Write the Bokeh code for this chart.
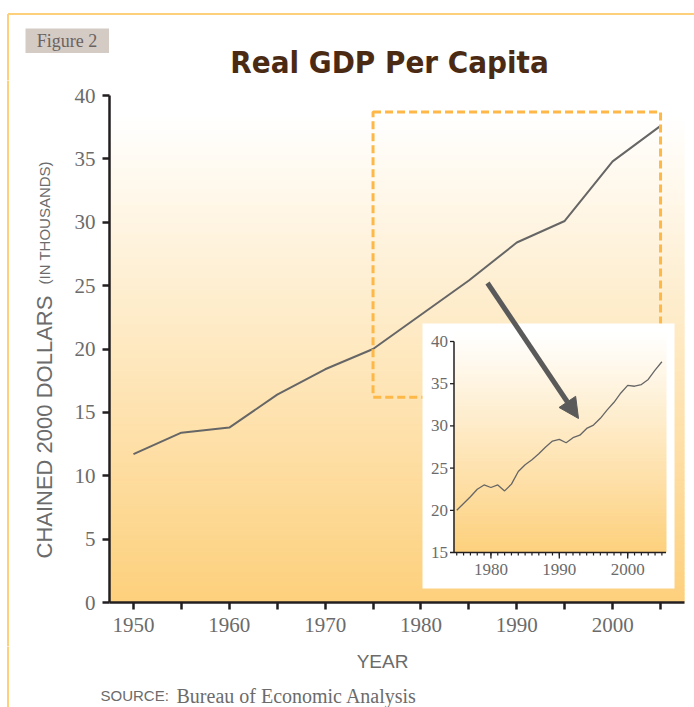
import math
from bokeh.plotting import figure
from bokeh.layouts import column, row
from bokeh.models import Range1d, FixedTicker, Arrow, NormalHead
from bokeh.core.properties import value
from bokeh.embed import file_html
from bokeh.resources import INLINE

# ---------------- data (thousands of chained 2000 dollars) ----------------
MAIN_YEARS = [1950, 1955, 1960, 1965, 1970, 1975, 1980, 1985, 1990, 1995, 2000, 2005]
MAIN_GDP = [11.7, 13.4, 13.8, 16.4, 18.4, 20.0, 22.7, 25.4, 28.4, 30.1, 34.8, 37.6]

INSET_YEARS = [1975, 1976, 1977, 1978, 1979, 1980, 1981, 1982, 1983, 1984,
               1985, 1986, 1987, 1988, 1989, 1990, 1991, 1992, 1993, 1994,
               1995, 1996, 1997, 1998, 1999, 2000, 2001, 2002, 2003, 2004, 2005]
INSET_GDP = [20.0, 20.8, 21.6, 22.5, 23.0, 22.7, 23.0, 22.3, 23.1, 24.6,
             25.4, 26.0, 26.7, 27.5, 28.2, 28.4, 28.0, 28.6, 28.9, 29.7,
             30.1, 30.9, 31.9, 32.8, 33.9, 34.8, 34.7, 34.9, 35.5, 36.6, 37.6]

MAIN_X_TICKS = [1950, 1960, 1970, 1980, 1990, 2000]
MAIN_X_MINOR_TICKS = [1955, 1965, 1975, 1985, 1995, 2005]
MAIN_Y_TICKS = [0, 5, 10, 15, 20, 25, 30, 35, 40]
INSET_X_TICKS = [1980, 1990, 2000]
INSET_X_MINOR_TICKS = INSET_YEARS
INSET_Y_TICKS = [15, 20, 25, 30, 35, 40]
ZOOM_YEARS = [1975, 2005]
ZOOM_VALUES = [16.2, 38.7]

TITLE = "Real GDP Per Capita"
FIG_TAG = "Figure 2"
Y_LABEL = "CHAINED 2000 DOLLARS"
Y_LABEL_NOTE = "(IN THOUSANDS)"
X_LABEL = "YEAR"
SOURCE_TAG = "SOURCE:"
SOURCE_TEXT = "Bureau of Economic Analysis"

# ---------------- layout (page pixels) ----------------
W, H = 694, 707
HEAD_H = 80            # header strip height
STRIP_W = 60           # left strip (y label)
MAIN_BOT = 646         # bottom of main figure
FL, FR, FT, FB = 109, 684, 95, 602          # main plot frame
MX0, MX1 = 1947.5, 2007.5
MY0, MY1 = 0, 40

# inset axes geometry (page pixels)
IX0, IX1 = 1974.6, 2005.6
IY0, IY1 = 15, 40
IL, IR, IB, IT = 453.5, 665.5, 552, 341
IXS = (IX1 - IX0) / (IR - IL)
IYS = (IY1 - IY0) / (IB - IT)


def ix(px):
    return IX0 + (px - IL) * IXS


def iy(py):
    return IY0 + (IB - py) * IYS


def mx(px):
    return MX0 + (px - FL) * (MX1 - MX0) / (FR - FL)


def my(py):
    return MY0 + (FB - py) * (MY1 - MY0) / (FB - FT)


GRAD_LOW = (253, 208, 124)
GREY_TXT = "#6b6b6b"
AXIS_COL = "#231f20"
LINE_COL = "#666666"
FRAME_COL = "#fdd07c"


def mix(t):
    t = max(0.0, min(1.0, t))
    r, g, b = (round(255 + (c - 255) * t) for c in GRAD_LOW)
    return "#%02x%02x%02x" % (r, g, b)


def canvas_fig(x0, y0, w, h):
    f = figure(width=w, height=h, title=None,
               x_range=Range1d(x0, x0 + w), y_range=Range1d(-(y0 + h), -y0),
               x_axis_type=None, y_axis_type=None,
               output_backend="svg", toolbar_location=None,
               min_border_left=0, min_border_right=0, min_border_top=0, min_border_bottom=0)
    f.outline_line_color = None
    f.background_fill_color = "white"
    f.border_fill_color = "white"
    f.frame_align = False
    return f


def txt(f, x, y, s, size, font, color, align="left", baseline="alphabetic",
        style="normal", angle=0.0):
    f.text(x=[x], y=[-y], text=[s], angle=angle, text_align=align, text_baseline=baseline,
           text_font=value(font), text_font_size=size, text_font_style=style, text_color=color)


def vline(f, x, y0, y1):
    f.segment(x0=[x], y0=[-y0], x1=[x], y1=[-y1], line_color=FRAME_COL, line_width=2)


# ---------------- header ----------------
head = canvas_fig(0, 0, W, HEAD_H)
head.segment(x0=[7.5], y0=[-13.5], x1=[W + 2], y1=[-13.5], line_color=FRAME_COL, line_width=2)
vline(head, 7.5, 13.5, HEAD_H + 1)
head.quad(left=[25], right=[108.5], top=[-28], bottom=[-52.5], fill_color="#d4cbc5", line_color=None)
txt(head, 66.5, 40.5, FIG_TAG, "18px", "Liberation Serif", "#6b6360", align="center", baseline="middle")
txt(head, 389, 61, TITLE, "31px", "DejaVu Sans Condensed", "#4b2a14", align="center", style="bold")

# ---------------- left strip (y label) ----------------
strip = canvas_fig(0, HEAD_H, STRIP_W, MAIN_BOT - HEAD_H)
vline(strip, 7.5, HEAD_H - 1, MAIN_BOT + 1)
txt(strip, 43.5, 558, Y_LABEL, "22px", "Liberation Sans", GREY_TXT, angle=math.pi / 2)
txt(strip, 43.5, 284, Y_LABEL_NOTE, "15px", "Liberation Sans", GREY_TXT, angle=math.pi / 2)

# ---------------- footer ----------------
foot = canvas_fig(0, MAIN_BOT, W, H - MAIN_BOT)
vline(foot, 7.5, MAIN_BOT - 1, H + 2)
txt(foot, 382, 661, X_LABEL, "19px", "Liberation Sans", GREY_TXT, align="center", baseline="middle")
txt(foot, 100, 695, SOURCE_TAG, "15px", "Liberation Sans", GREY_TXT)
txt(foot, 176, 695, SOURCE_TEXT, "20px", "Liberation Serif", GREY_TXT)

# ---------------- main chart ----------------
p = figure(width=W - STRIP_W, height=MAIN_BOT - HEAD_H, title=None,
           x_range=Range1d(MX0, MX1), y_range=Range1d(MY0, MY1),
           output_backend="svg", toolbar_location=None,
           min_border_left=FL - STRIP_W, min_border_right=W - FR,
           min_border_top=FT - HEAD_H, min_border_bottom=MAIN_BOT - FB)
p.frame_align = False
p.extra_x_ranges = {"ix": Range1d(ix(FL), ix(FR))}
p.extra_y_ranges = {"iy": Range1d(iy(FB), iy(FT))}
p.xgrid.visible = False
p.ygrid.visible = False
p.outline_line_color = None
p.background_fill_color = "white"
p.border_fill_color = "white"

p.xaxis.ticker = FixedTicker(ticks=MAIN_X_TICKS, minor_ticks=MAIN_X_MINOR_TICKS)
p.yaxis.ticker = FixedTicker(ticks=MAIN_Y_TICKS, minor_ticks=[])
for ax in (p.xaxis[0], p.yaxis[0]):
    ax.axis_line_color = AXIS_COL
    ax.axis_line_width = 2.5
    ax.major_tick_line_color = AXIS_COL
    ax.major_tick_line_width = 2.5
    ax.major_tick_out = 7
    ax.major_tick_in = 0
    ax.minor_tick_line_color = AXIS_COL
    ax.minor_tick_line_width = 2.5
    ax.minor_tick_out = 7
    ax.minor_tick_in = 0
    ax.major_label_text_font = "Liberation Serif"
    ax.major_label_text_font_size = "21px"
    ax.major_label_text_color = GREY_TXT
p.xaxis.major_label_standoff = 8
p.yaxis.major_label_standoff = 7

# gradient background of the main frame
N = 120
grad_top = my(115)
bot = [MY0 + (MY1 - MY0) * i / N for i in range(N)]
top = [MY0 + (MY1 - MY0) * (i + 1) / N for i in range(N)]
cols = [mix((grad_top - (b + t) / 2) / (grad_top - MY0)) for b, t in zip(bot, top)]
p.quad(left=MX0, right=MX1, bottom=bot, top=top, fill_color=cols, line_color=cols, line_width=1)

p.line(MAIN_YEARS, MAIN_GDP, line_color=LINE_COL, line_width=2)

p.quad(left=ZOOM_YEARS[0], right=ZOOM_YEARS[1], bottom=ZOOM_VALUES[0], top=ZOOM_VALUES[1],
       fill_color=None, line_color="#fdb848", line_width=3, line_dash="8 4")

# inset
R = dict(x_range_name="ix", y_range_name="iy")
p.quad(left=ix(422), right=ix(674), bottom=iy(588), top=iy(323),
       fill_color="white", line_color=None, **R)
NI = 60
g_top = iy(332)
ib = [IY0 + (g_top - IY0) * i / NI for i in range(NI)]
it = [IY0 + (g_top - IY0) * (i + 1) / NI for i in range(NI)]
icols = [mix((g_top - (b + t) / 2) / (g_top - IY0)) for b, t in zip(ib, it)]
p.quad(left=IX0, right=IX1, bottom=ib, top=it, fill_color=icols, line_color=icols, line_width=1, **R)

p.line(INSET_YEARS, INSET_GDP, line_color=LINE_COL, line_width=1.3, **R)

p.segment(x0=[IX0, IX0], y0=[IY0, IY0], x1=[IX1, IX0], y1=[IY0, IY1],
          line_color=AXIS_COL, line_width=1.5, **R)
p.ray(x=[IX0] * len(INSET_Y_TICKS), y=INSET_Y_TICKS, length=4, length_units="screen",
      angle=math.pi, line_color=AXIS_COL, line_width=1.3, **R)
p.ray(x=INSET_X_MINOR_TICKS, y=[IY0] * len(INSET_X_MINOR_TICKS), length=3, length_units="screen",
      angle=-math.pi / 2, line_color=AXIS_COL, line_width=1.2, **R)
p.ray(x=INSET_X_TICKS, y=[IY0] * len(INSET_X_TICKS), length=6, length_units="screen",
      angle=-math.pi / 2, line_color=AXIS_COL, line_width=1.3, **R)
p.text(x=[IX0] * len(INSET_Y_TICKS), y=INSET_Y_TICKS, text=[str(v) for v in INSET_Y_TICKS],
       x_offset=-6, text_align="right", text_baseline="middle",
       text_font=value("Liberation Serif"), text_font_size="17px", text_color=GREY_TXT, **R)
p.text(x=INSET_X_TICKS, y=[IY0] * len(INSET_X_TICKS), text=[str(v) for v in INSET_X_TICKS],
       y_offset=11, text_align="center", text_baseline="top",
       text_font=value("Liberation Serif"), text_font_size="17px", text_color=GREY_TXT, **R)

p.add_layout(Arrow(end=NormalHead(size=20, fill_color="#5a5a5a", line_color="#5a5a5a"),
                   x_start=mx(487), y_start=my(282.5), x_end=mx(578), y_end=my(418),
                   line_color="#5a5a5a", line_width=5))

layout = column(head, row(strip, p), foot)
open("out.html", "w").write(file_html(layout, INLINE))
